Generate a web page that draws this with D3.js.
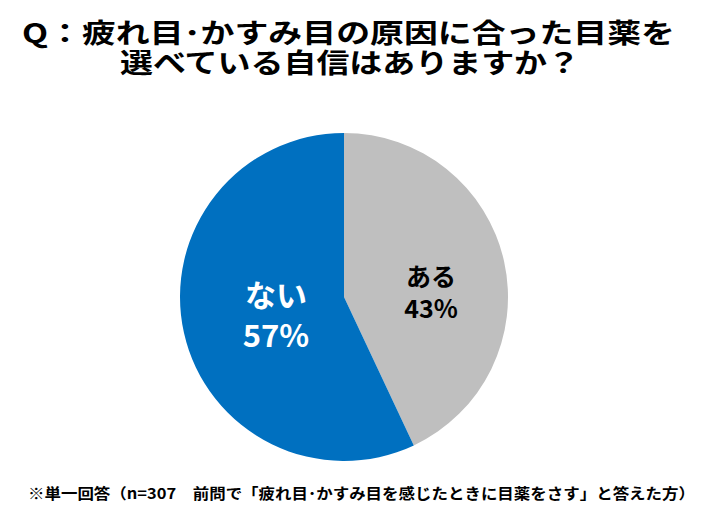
<!DOCTYPE html>
<html><head><meta charset="utf-8">
<script src="https://cdn.jsdelivr.net/npm/d3@7"></script>
<style>body{margin:0;background:#fff}svg{display:block}text{font-family:"Noto Sans CJK JP","Noto Sans",sans-serif;font-weight:bold}</style>
</head><body><svg id="c" width="711" height="531"></svg>
<script>
const categories = ["ある", "ない"];
const values = [43, 57];
const colors = ["#BFBFBF", "#0070C0"];
const labelColors = ["#000000", "#ffffff"];
const titleLines = ["Q：疲れ目･かすみ目の原因に合った目薬を", "選べている自信はありますか？"];
const footnote = "※単一回答（n=307　前問で「疲れ目･かすみ目を感じたときに目薬をさす」と答えた方）";

const svg = d3.select("#c");
const cx = 344, cy = 297, r = 164;

// title
const titleSpecs = [{x0: 22, x1: 675, y: 31}, {x0: 120, x1: 580, y: 61}];
titleLines.forEach((t, i) => {
  const s = titleSpecs[i];
  svg.append("text").attr("x", s.x0).attr("y", s.y)
    .attr("dominant-baseline", "central")
    .attr("font-size", 27).attr("fill", "#000")
    .attr("textLength", s.x1 - s.x0).attr("lengthAdjust", "spacingAndGlyphs")
    .text(t);
});

const pie = d3.pie().sort(null).value(d => d)(values);
const arc = d3.arc().innerRadius(0).outerRadius(r);
const g = svg.append("g").attr("transform", `translate(${cx},${cy})`);
g.selectAll("path").data(pie).join("path")
  .attr("d", arc).attr("fill", (d, i) => colors[i]);

const labelPos = [{x: 431, y1: 275, y2: 307, fs: 25}, {x: 276, y1: 293, y2: 333, fs: 31}];
pie.forEach((d, i) => {
  const p = labelPos[i];
  svg.append("text").attr("x", p.x).attr("y", p.y1).attr("text-anchor", "middle")
    .attr("dominant-baseline", "central").attr("font-size", p.fs).attr("fill", labelColors[i])
    .text(categories[i]);
  svg.append("text").attr("x", p.x).attr("y", p.y2).attr("text-anchor", "middle")
    .attr("dominant-baseline", "central").attr("font-size", p.fs).attr("fill", labelColors[i])
    .text(values[i] + "%");
});

svg.append("text").attr("x", 28).attr("y", 492).attr("dominant-baseline", "central")
  .attr("font-size", 15).attr("fill", "#000")
  .attr("textLength", 667).attr("lengthAdjust", "spacingAndGlyphs")
  .text(footnote);
</script></body></html>
